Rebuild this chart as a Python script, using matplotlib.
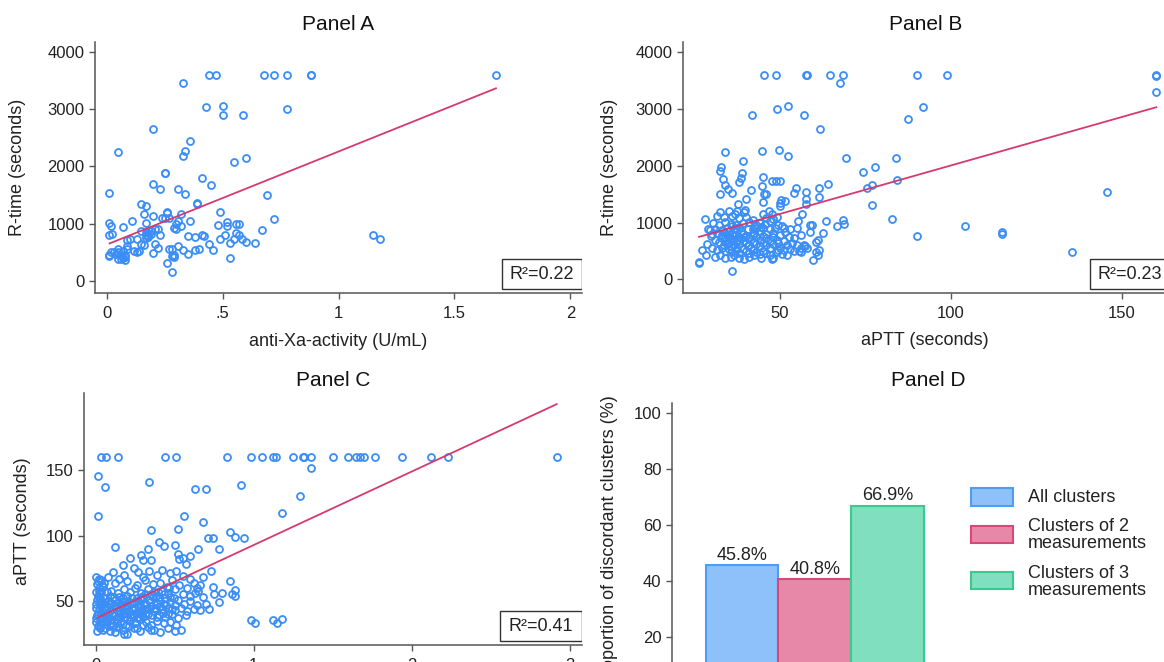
import matplotlib
matplotlib.use("Agg")
import matplotlib.pyplot as plt
from matplotlib.patches import Rectangle
import numpy as np

plt.rcParams['font.family'] = ['Liberation Sans', 'DejaVu Sans']

# ---- data ----
# Panel A: anti-Xa-activity (U/mL) vs R-time (seconds)
panel_a = [
    (0.44, 3600), (0.47, 3600), (0.68, 3600), (0.72, 3600), (0.78, 3600), (0.88, 3600), (0.88, 3590), (1.68, 3600),
    (0.33, 3460), (0.43, 3040), (0.50, 3060), (0.50, 2890), (0.59, 2900), (0.78, 3000),
    (0.20, 2650), (0.36, 2450), (0.34, 2270), (0.33, 2175), (0.05, 2250), (0.55, 2080), (0.60, 2145),
    (0.25, 1890), (0.25, 1880), (0.41, 1800), (0.45, 1670), (0.20, 1690), (0.23, 1610), (0.31, 1610),
    (0.34, 1520), (0.01, 1535), (0.69, 1495), (0.39, 1360), (0.39, 1350), (0.15, 1340), (0.17, 1315),
    (0.26, 1200), (0.49, 1205), (0.32, 1170), (0.16, 1170), (0.20, 1140), (0.25, 1100), (0.27, 1100),
    (0.72, 1090), (0.11, 1055), (0.36, 1045), (0.31, 1040), (0.17, 1020), (0.01, 1010), (0.52, 1030),
    (0.56, 1000), (0.57, 990), (0.02, 960), (0.07, 945), (0.48, 975), (0.52, 955), (0.32, 960),
    (0.29, 930), (0.30, 900), (0.67, 895), (0.21, 900), (0.19, 880), (0.15, 870), (0.17, 860),
    (0.18, 840), (0.01, 800), (0.025, 820), (1.15, 810), (1.18, 725), (0.35, 785), (0.41, 805),
    (0.42, 780), (0.38, 760), (0.23, 800), (0.18, 760), (0.17, 750), (0.10, 725), (0.09, 710),
    (0.49, 735), (0.51, 810), (0.56, 840), (0.57, 800), (0.585, 730), (0.60, 680), (0.64, 665),
    (0.55, 725), (0.53, 660), (0.44, 650), (0.21, 640), (0.16, 620), (0.22, 580), (0.27, 560),
    (0.31, 610), (0.40, 560), (0.38, 540), (0.33, 540), (0.28, 560), (0.09, 610), (0.09, 560),
    (0.46, 540), (0.12, 515), (0.13, 500), (0.14, 520), (0.20, 495), (0.29, 445), (0.35, 465),
    (0.29, 410), (0.28, 440), (0.53, 395), (0.26, 320), (0.28, 150), (0.01, 435), (0.01, 450),
    (0.02, 510), (0.03, 500), (0.05, 560), (0.05, 500), (0.06, 450), (0.07, 400), (0.05, 380),
    (0.08, 420), (0.08, 370), (0.07, 520), (0.04, 470), (0.06, 390), (0.08, 460), (0.18, 780),
    (0.19, 820), (0.17, 800), (0.24, 1100), (0.26, 1180), (0.13, 740), (0.15, 640), (0.22, 900),
    (0.30, 1000),
]
fit_a_x = [0.013, 1.679]
fit_a_y = [655, 3362]

# Panel B: aPTT (seconds) vs R-time (seconds)
panel_b = [
    (45.3, 3600), (48.9, 3600), (57.6, 3600), (57.8, 3600), (64.7, 3600), (68.3, 3600), (90.0, 3600),
    (98.9, 3600), (160, 3600), (160, 3590), (67.5, 3465), (160, 3300),
    (49.1, 3000), (52.4, 3060), (41.8, 2900), (57.0, 2890), (61.7, 2655), (91.8, 3040), (87.4, 2820),
    (34.0, 2250), (44.8, 2260), (49.8, 2270), (52.4, 2175), (69.2, 2130), (83.8, 2145), (74.2, 1885),
    (77.7, 1970), (84.1, 1750), (75.3, 1615), (77.0, 1670), (76.8, 1315), (82.6, 1060), (90.0, 770),
    (104.1, 945), (114.9, 830), (114.9, 805), (135.3, 480), (145.5, 1545),
    (64.0, 1675), (61.4, 1615), (61.4, 1450), (63.3, 1020), (66.5, 945), (68.3, 1040), (68.7, 980),
    (62.6, 820), (60.4, 665), (61.1, 690), (61.4, 515), (61.1, 420), (60.4, 480), (59.6, 335),
    (59.3, 960), (58.8, 960), (58.7, 840), (57.4, 595), (57.0, 600), (56.5, 1145), (57.6, 1545),
    (57.6, 1420), (57.6, 1335), (54.5, 1605), (54.1, 1520), (51.3, 1385), (50.0, 1345), (50.3, 1400),
    (50.0, 1300), (50.0, 1735), (48.9, 1730), (47.5, 1730), (44.9, 1810), (44.8, 1640), (45.3, 1510),
    (45.9, 1510), (45.1, 1360), (41.4, 1575), (39.9, 1420), (39.2, 2090), (38.9, 1870), (38.7, 1780),
    (38.1, 1720), (35.9, 1520), (37.7, 1330), (39.6, 1230), (36.8, 1150), (34.8, 1595), (33.9, 1660),
    (33.4, 1770), (32.4, 1900), (32.6, 1970), (32.3, 1500), (28.0, 1070), (28.8, 880), (29.8, 765),
    (28.5, 625), (27.2, 515), (26.3, 300), (26.3, 290), (35.8, 150), (28.3, 420),
    (32.5, 1180), (35, 1200), (37.5, 1210), (39.5, 1190), (46.8, 1200), (47.5, 1150), (44.9, 1150),
    (31.5, 1110), (33.5, 1100), (36, 1120), (38, 1080), (40, 1100), (42, 1040), (46, 1080), (48, 1060),
    (49, 1100), (55.3, 1020), (44, 1000),
    (30.5, 1000), (32, 960), (34, 1010), (35.5, 980), (37, 950), (39, 990), (41, 1010), (43, 960),
    (45, 900), (47, 880), (49.5, 960), (50.5, 940), (51, 900), (53, 880), (55, 900), (56, 780), (51.5, 830),
    (29.5, 870), (31, 890), (33, 870), (34.5, 900), (36.5, 880), (38.5, 860), (40.5, 890), (42.5, 820),
    (44, 850), (46, 800), (48, 820), (50, 780), (52.5, 750), (54, 720), (49, 700),
    (30, 790), (31.5, 820), (33, 780), (34, 820), (35, 760), (36, 800), (37, 780), (38, 740), (39, 800),
    (40, 760), (41, 720), (42, 780), (43, 740), (44, 700), (45, 760), (46, 720), (47, 680), (48, 740),
    (49.5, 640), (51, 680), (53.5, 640), (55, 600), (56, 560), (58, 560),
    (31, 700), (32, 660), (33, 720), (34, 680), (35, 640), (36, 700), (37, 660), (38, 620), (39, 680),
    (40, 640), (41, 600), (42, 660), (43, 620), (44, 580), (45, 640), (46, 600), (47, 560), (48, 620),
    (50, 560), (51, 520), (52, 600), (53, 540), (54, 500), (56, 480), (50.5, 440),
    (30, 560), (31.5, 520), (33, 560), (34, 500), (35, 540), (36, 480), (37, 520), (38, 460), (39, 540),
    (40, 500), (41, 460), (42, 520), (43, 480), (44, 440), (45, 500), (46, 460), (47, 420), (48, 380),
    (49, 480), (52, 420), (55.5, 500), (49.5, 520),
    (31, 400), (32.5, 420), (34, 380), (35.5, 400), (36.5, 420), (38, 380), (39.5, 360), (41, 400),
    (42.5, 420), (44.5, 380), (47.5, 350),
    (33.5, 600), (34.5, 620), (35.5, 580), (36.5, 600), (37.5, 560), (35, 860), (36, 940), (37, 900),
    (38, 920), (34, 740), (35.5, 720), (36.5, 760), (37.5, 700), (38.5, 720), (39.5, 740), (40.5, 580),
    (41.5, 560), (42, 880), (43, 900), (44.5, 920), (45.5, 980), (47, 1020), (48.5, 900),
]
fit_b_x = [26.3, 160.0]
fit_b_y = [748, 3032]

# Panel C: anti-Xa-activity vs aPTT (seconds)
c_top_x = [0.036, 0.068, 0.14, 0.44, 0.51, 0.83, 0.98, 1.05, 1.12, 1.14, 1.25, 1.31, 1.32, 1.36,
           1.50, 1.60, 1.65, 1.67, 1.70, 1.77, 1.94, 2.12, 2.23, 2.92]
c_top_y = 160
panel_c = [
    (1.36, 151.5), (0.012, 145.7), (0.06, 137), (0.34, 141), (0.63, 135.5), (0.70, 135.5), (0.92, 138.8),
    (1.29, 130), (0.012, 115), (1.18, 117.5), (0.56, 115), (0.68, 110), (0.35, 104), (0.52, 104.6),
    (0.85, 102.5), (0.88, 99), (0.94, 98), (0.71, 98), (0.74, 98), (0.12, 91.4), (0.40, 95), (0.43, 92),
    (0.50, 92.6), (0.33, 90), (0.65, 90), (0.78, 90), (0.52, 86), (0.55, 83), (0.60, 84), (0.22, 83),
    (0.29, 85), (0.35, 81), (0.57, 78), (0.17, 77.4), (0.73, 72.6), (0.68, 68.5), (0.85, 65.5), (0.74, 61),
    (0.88, 58.4), (0.86, 55.3), (0.80, 55.8), (0.78, 49.5), (0.98, 35.8), (1.01, 33.2), (1.12, 35.8),
    (1.15, 33), (1.18, 36.5), (0.30, 81), (0.53, 81.7), (0.75, 55.6), (0.88, 54),
    (0.005, 68), (0.02, 67), (0.035, 66), (0.01, 63), (0.04, 62), (0.02, 60), (0.005, 57), (0.03, 55),
    (0.045, 53), (0.01, 51), (0.025, 49), (0.04, 47), (0.005, 45), (0.02, 43), (0.035, 41), (0.01, 39),
    (0.045, 38), (0.025, 36), (0.005, 34), (0.04, 33), (0.015, 31), (0.03, 29), (0.01, 27), (0.045, 28),
    (0.02, 58), (0.05, 64), (0.00, 48), (0.05, 44), (0.00, 37), (0.035, 50), (0.015, 54), (0.05, 35),
    (0.12, 64), (0.2, 65), (0.26, 62), (0.31, 66), (0.36, 63), (0.41, 64), (0.45, 61), (0.48, 66),
    (0.53, 62), (0.58, 60), (0.62, 64), (0.65, 58),
    (0.07, 57), (0.1, 58), (0.14, 56), (0.18, 59), (0.22, 57), (0.25, 60), (0.29, 56), (0.33, 59),
    (0.37, 57), (0.42, 58), (0.46, 56), (0.5, 59), (0.55, 55), (0.6, 54), (0.63, 56), (0.68, 53),
    (0.06, 52), (0.09, 54), (0.12, 51), (0.15, 53), (0.17, 50), (0.2, 54), (0.23, 52), (0.27, 50),
    (0.3, 53), (0.34, 51), (0.38, 54), (0.41, 50), (0.44, 52), (0.47, 49), (0.52, 51), (0.56, 48),
    (0.6, 50), (0.64, 47), (0.7, 48),
    (0.07, 46), (0.1, 48), (0.13, 45), (0.16, 47), (0.19, 44), (0.22, 48), (0.25, 45), (0.28, 47),
    (0.31, 44), (0.35, 46), (0.39, 48), (0.42, 44), (0.46, 45), (0.5, 43), (0.54, 45), (0.58, 42),
    (0.62, 44), (0.66, 43), (0.72, 44),
    (0.06, 40), (0.09, 42), (0.12, 39), (0.15, 41), (0.18, 38), (0.21, 42), (0.24, 39), (0.27, 41),
    (0.3, 38), (0.33, 40), (0.37, 42), (0.4, 39), (0.44, 38), (0.48, 40), (0.52, 37), (0.57, 39),
    (0.07, 35), (0.1, 33), (0.13, 36), (0.16, 34), (0.19, 32), (0.22, 35), (0.25, 33), (0.28, 36),
    (0.32, 34), (0.35, 32), (0.39, 35), (0.43, 33), (0.47, 34), (0.51, 32),
    (0.06, 29), (0.09, 27), (0.13, 30), (0.17, 28), (0.2, 25), (0.24, 29), (0.28, 27), (0.33, 30),
    (0.37, 28), (0.41, 26), (0.46, 29), (0.5, 27), (0.54, 28),
    (0.08, 50), (0.11, 44), (0.14, 49), (0.17, 42), (0.2, 47), (0.23, 40), (0.26, 52), (0.29, 43),
    (0.32, 48), (0.08, 37), (0.11, 31), (0.14, 38), (0.17, 52), (0.2, 36), (0.23, 45), (0.26, 37),
    (0.29, 51), (0.32, 41), (0.35, 55), (0.38, 44), (0.4, 53), (0.43, 48), (0.47, 53), (0.5, 47),
    (0.08, 68), (0.11, 72), (0.15, 67), (0.18, 70), (0.24, 75), (0.27, 72), (0.3, 68), (0.34, 73),
    (0.39, 70), (0.42, 74), (0.47, 71), (0.51, 73), (0.55, 69), (0.6, 67), (0.64, 60), (0.66, 62),
    (0.025, 46), (0.035, 57), (0.015, 40), (0.03, 52), (0.045, 61), (0.025, 33), (0.04, 43), (0.015, 65),
    (0.065, 44), (0.075, 39), (0.085, 48), (0.095, 36), (0.105, 41), (0.115, 53), (0.125, 47), (0.135, 33),
    (0.145, 43), (0.155, 37), (0.165, 46), (0.175, 40), (0.185, 49), (0.195, 41), (0.205, 50), (0.215, 38),
    (0.235, 43), (0.245, 49), (0.255, 41), (0.265, 46), (0.275, 38), (0.285, 53), (0.295, 40), (0.305, 47),
    (0.315, 55), (0.325, 44), (0.345, 49), (0.355, 39), (0.365, 53), (0.375, 45), (0.385, 38), (0.395, 57),
    (0.405, 46), (0.425, 41), (0.435, 55), (0.445, 47), (0.455, 40), (0.465, 60), (0.485, 44), (0.495, 52),
    (0.09, 31), (0.12, 26), (0.15, 30), (0.18, 25), (0.21, 31), (0.26, 29), (0.3, 32), (0.35, 28),
]
fit_c_x = [0.012, 2.918]
fit_c_y = [37.3, 200.3]

# Panel D: proportion of discordant clusters
d_values = [45.8, 40.8, 66.9]
d_fill = ['#8ec1fa', '#e888a8', '#80dfbe']
d_edge = ['#4d9cf5', '#d9477a', '#3cc891']

r2 = {'A': 0.22, 'B': 0.23, 'C': 0.41}

# ---- layout helpers (pixel based, 1164x662) ----
W, H = 1164, 662
BLUE = '#3a8ef6'
LINE = '#d63a6d'


def px_box(x0, y0, x1, y1):
    return [x0 / W, 1 - y1 / H, (x1 - x0) / W, (y1 - y0) / H]


def fig_text(fig, x, y, s, **kw):
    fig.text(x / W, 1 - y / H, s, **kw)


def stata_axes(ax):
    for s in ['top', 'right']:
        ax.spines[s].set_visible(False)
    for s in ['left', 'bottom']:
        ax.spines[s].set_color('#555555')
        ax.spines[s].set_linewidth(1.1)
    ax.tick_params(direction='out', length=4.5, width=1.0, color='#555555',
                   labelsize=12, labelcolor='#222222')
    ax.tick_params(axis='x', pad=5)
    ax.tick_params(axis='y', pad=3)


def r2_box(ax, value):
    ax.add_patch(Rectangle((1 - 0.165, 0.016), 0.165, 0.12, transform=ax.transAxes,
                           fc='white', ec='#333333', lw=1.0, zorder=5))
    ax.text(1 - 0.0825, 0.074, 'R²=%.2f' % value, transform=ax.transAxes,
            ha='center', va='center', fontsize=13, color='#222222', zorder=6)


def scatter(ax, pts, fx, fy):
    xs = [p[0] for p in pts]
    ys = [p[1] for p in pts]
    ax.plot(xs, ys, 'o', ms=5.0, mfc='none', mec=BLUE, mew=1.3, zorder=2)
    ax.plot(fx, fy, '-', color=LINE, lw=1.3, zorder=3)


fig = plt.figure(figsize=(W / 100, H / 100), dpi=100)

# Panel A
axA = fig.add_axes(px_box(95, 42, 582, 293))
scatter(axA, panel_a, fit_a_x, fit_a_y)
axA.set_xlim(-0.05, 2.05)
axA.set_ylim(-210, 4170)
axA.set_xticks([0, 0.5, 1, 1.5, 2])
axA.set_xticklabels(['0', '.5', '1', '1.5', '2'])
axA.set_yticks([0, 1000, 2000, 3000, 4000])
stata_axes(axA)
r2_box(axA, r2['A'])

# Panel B
axB = fig.add_axes(px_box(683, 42, 1170, 293))
scatter(axB, panel_b, fit_b_x, fit_b_y)
axB.set_xlim(21.6, 164)
axB.set_ylim(-241, 4181)
axB.set_xticks([50, 100, 150])
axB.set_yticks([0, 1000, 2000, 3000, 4000])
stata_axes(axB)
r2_box(axB, r2['B'])

# Panel C
axC = fig.add_axes(px_box(84.3, 393, 581.7, 645))
c_pts = panel_c + [(x, c_top_y) for x in c_top_x]
scatter(axC, c_pts, fit_c_x, fit_c_y)
axC.set_xlim(-0.072, 3.076)
axC.set_ylim(16.4, 208.8)
axC.set_xticks([0, 1, 2, 3])
axC.set_yticks([50, 100, 150])
stata_axes(axC)
r2_box(axC, r2['C'])

# Panel D
axD = fig.add_axes(px_box(671.7, 402.7, 957, 705))
pos = np.arange(len(d_values))
bars = axD.bar(pos, d_values, width=1.0, color=d_fill, edgecolor=d_edge, linewidth=1.5)
for p, v in zip(pos, d_values):
    axD.annotate('%.1f%%' % v, (p, v), xytext=(0, 1), textcoords='offset points',
                 ha='center', va='bottom', fontsize=13, color='#222222')
axD.set_xlim(-0.968, 2.956)
axD.set_ylim(-4.05, 103.6)
axD.set_yticks([0, 20, 40, 60, 80, 100])
axD.set_xticks([])
stata_axes(axD)

# legend for panel D, drawn by hand
leg_boxes = [(488, 505.7), (525.7, 542.7), (572, 589.3)]
leg_lines = [[('All clusters', 497)],
             [('Clusters of 2', 526.7), ('measurements', 544)],
             [('Clusters of 3', 573), ('measurements', 590.7)]]
for (y0, y1), fc, ec, lines in zip(leg_boxes, d_fill, d_edge, leg_lines):
    fig.add_artist(Rectangle((971 / W, 1 - y1 / H), (1012.7 - 971) / W, (y1 - y0) / H,
                             transform=fig.transFigure, fc=fc, ec=ec, lw=1.5))
    for s, y in lines:
        fig_text(fig, 1028, y, s, ha='left', va='center', fontsize=13, color='#222222')

# titles
for s, x, y in [('Panel A', 338.5, 25), ('Panel B', 926, 25), ('Panel C', 333, 380), ('Panel D', 928, 380)]:
    fig_text(fig, x, y, s, ha='center', va='center', fontsize=15, color='#111111')

# axis labels
lab = dict(ha='center', va='center', fontsize=13, color='#222222')
fig_text(fig, 338.5, 341, 'anti-Xa-activity (U/mL)', **lab)
fig_text(fig, 18, 167, 'R-time (seconds)', rotation=90, **lab)
fig_text(fig, 925, 340, 'aPTT (seconds)', **lab)
fig_text(fig, 609, 167, 'R-time (seconds)', rotation=90, **lab)
fig_text(fig, 23, 521, 'aPTT (seconds)', rotation=90, **lab)
fig_text(fig, 609, 541, 'Proportion of discordant clusters (%)', rotation=90, **lab)

fig.savefig('out.png', dpi=100)
